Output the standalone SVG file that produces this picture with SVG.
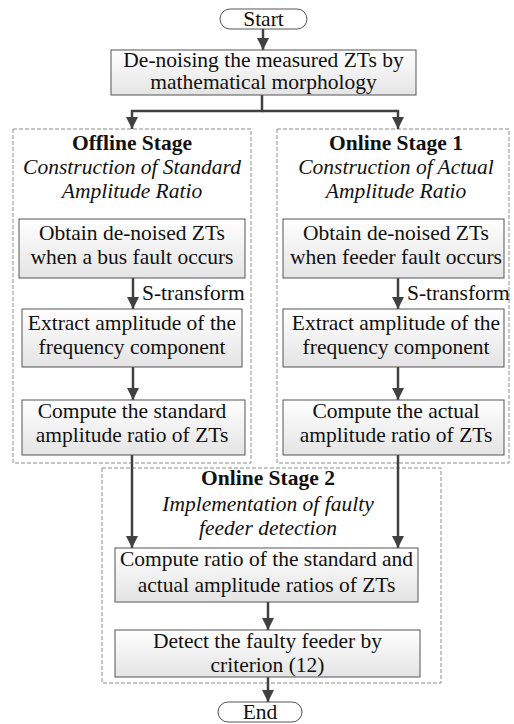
<svg xmlns="http://www.w3.org/2000/svg" width="514" height="724" viewBox="0 0 514 724">
  <defs>
    <linearGradient id="boxFill" x1="0" y1="0" x2="0" y2="1">
      <stop offset="0" stop-color="#ffffff"/>
      <stop offset="1" stop-color="#e4e4e4"/>
    </linearGradient>
    <marker id="arrow" markerWidth="12" markerHeight="12" refX="12" refY="6" orient="auto" markerUnits="userSpaceOnUse">
      <path d="M0,0 L12,6 L0,12 Z" fill="#404040"/>
    </marker>
  </defs>
  <style>
    .box { fill: url(#boxFill); stroke: #555555; stroke-width: 1; }
    .term { fill: #ffffff; stroke: #555555; stroke-width: 1; }
    .stage { fill: none; stroke: #8c8c8c; stroke-width: 1; stroke-dasharray: 4 2; }
    .t { font-family: 'Liberation Serif', serif; font-size: 21.5px; fill: #111111; text-anchor: middle; }
    .b { font-weight: bold; }
    .i { font-style: italic; }
    .lbl { font-family: 'Liberation Serif', serif; font-size: 21.5px; fill: #111111; }
    .conn { fill: none; stroke: #404040; stroke-width: 2.5; }
  </style>

  <rect width="514" height="724" fill="#ffffff"/>

  <!-- stage frames -->
  <g id="offline-stage">
    <rect class="stage" x="13" y="129" width="238" height="334"/>
    <text class="t b" x="132" y="150">Offline Stage</text>
    <text class="t i" x="132" y="174">Construction of Standard</text>
    <text class="t i" x="132" y="198">Amplitude Ratio</text>
  </g>
  <g id="online-stage-1">
    <rect class="stage" x="277" y="129" width="232" height="334"/>
    <text class="t b" x="396" y="150">Online Stage 1</text>
    <text class="t i" x="396" y="174">Construction of Actual</text>
    <text class="t i" x="396" y="198">Amplitude Ratio</text>
  </g>
  <g id="online-stage-2">
    <rect class="stage" x="102" y="468" width="339" height="215"/>
    <text class="t b" x="268" y="485">Online Stage 2</text>
    <text class="t i" x="268" y="511">Implementation of faulty</text>
    <text class="t i" x="268" y="535">feeder detection</text>
  </g>

  <!-- connectors -->
  <g id="connectors">
    <path class="conn" d="M263,29 V50" marker-end="url(#arrow)"/>
    <path class="conn" d="M262,95 V111 H132 V129" marker-end="url(#arrow)"/>
    <path class="conn" d="M262,111 H398 V129" marker-end="url(#arrow)"/>
    <path class="conn" d="M133,278 V309" marker-end="url(#arrow)"/>
    <path class="conn" d="M133,367 V400" marker-end="url(#arrow)"/>
    <path class="conn" d="M398,278 V309" marker-end="url(#arrow)"/>
    <path class="conn" d="M398,367 V400" marker-end="url(#arrow)"/>
    <path class="conn" d="M132,455 V548" marker-end="url(#arrow)"/>
    <path class="conn" d="M398,455 V548" marker-end="url(#arrow)"/>
    <path class="conn" d="M268,602 V630" marker-end="url(#arrow)"/>
    <path class="conn" d="M268,677 V702" marker-end="url(#arrow)"/>
    <text class="lbl" x="142" y="300">S-transform</text>
    <text class="lbl" x="407" y="300">S-transform</text>
  </g>

  <!-- nodes -->
  <g id="start">
    <rect class="term" x="220" y="9" width="87" height="20" rx="10" ry="10"/>
    <text class="t" x="263.5" y="26">Start</text>
  </g>
  <g id="denoise">
    <rect class="box" x="111" y="50" width="305" height="45"/>
    <text class="t" x="263.5" y="67">De-noising the measured ZTs by</text>
    <text class="t" x="263.5" y="89">mathematical morphology</text>
  </g>

  <g id="offline-obtain">
    <rect class="box" x="19" y="219" width="226" height="59"/>
    <text class="t" x="132" y="240">Obtain de-noised ZTs</text>
    <text class="t" x="132" y="264">when a bus fault occurs</text>
  </g>
  <g id="offline-extract">
    <rect class="box" x="22" y="309" width="220" height="58"/>
    <text class="t" x="132" y="330">Extract amplitude of the</text>
    <text class="t" x="132" y="354">frequency component</text>
  </g>
  <g id="offline-compute">
    <rect class="box" x="22" y="400" width="223" height="55"/>
    <text class="t" x="132" y="418">Compute the standard</text>
    <text class="t" x="132" y="442">amplitude ratio of ZTs</text>
  </g>

  <g id="online-obtain">
    <rect class="box" x="283" y="219" width="221" height="59"/>
    <text class="t" x="396" y="240">Obtain de-noised ZTs</text>
    <text class="t" x="396" y="264">when feeder fault occurs</text>
  </g>
  <g id="online-extract">
    <rect class="box" x="283" y="309" width="221" height="58"/>
    <text class="t" x="396" y="330">Extract amplitude of the</text>
    <text class="t" x="396" y="354">frequency component</text>
  </g>
  <g id="online-compute">
    <rect class="box" x="283" y="400" width="221" height="55"/>
    <text class="t" x="396" y="418">Compute the actual</text>
    <text class="t" x="396" y="442">amplitude ratio of ZTs</text>
  </g>

  <g id="ratio">
    <rect class="box" x="115" y="548" width="303" height="54"/>
    <text class="t" x="266.5" y="566">Compute ratio of the standard and</text>
    <text class="t" x="266.5" y="592">actual amplitude ratios of ZTs</text>
  </g>
  <g id="detect">
    <rect class="box" x="115" y="630" width="305" height="47"/>
    <text class="t" x="267.5" y="648">Detect the faulty feeder by</text>
    <text class="t" x="267.5" y="672">criterion (12)</text>
  </g>
  <g id="end">
    <rect class="term" x="218" y="702" width="84" height="20" rx="10" ry="10"/>
    <text class="t" x="260" y="719">End</text>
  </g>
</svg>
